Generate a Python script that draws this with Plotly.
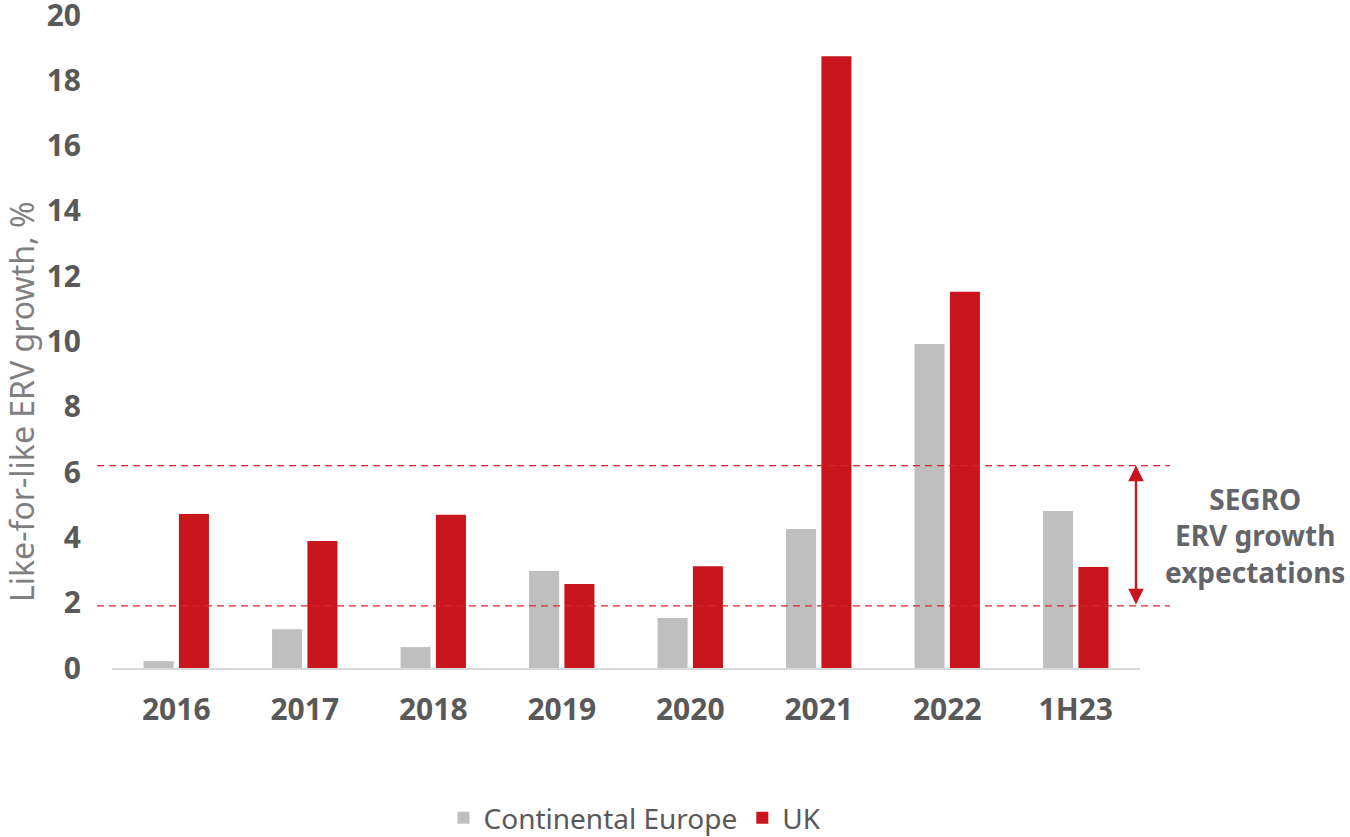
import plotly.graph_objects as go

categories = ["2016", "2017", "2018", "2019", "2020", "2021", "2022", "1H23"]
continental_europe = [0.21, 1.19, 0.64, 2.97, 1.53, 4.26, 9.92, 4.81]
uk = [4.72, 3.89, 4.69, 2.57, 3.12, 18.74, 11.52, 3.09]
y_ticks = [0, 2, 4, 6, 8, 10, 12, 14, 16, 18, 20]
expectation_low = 1.9
expectation_high = 6.2

FONT = "Noto Sans"
GREY_TXT = "#595959"
RED = "#C9161E"
LIGHT = "#BFBFBF"

fig = go.Figure()
fig.add_trace(go.Bar(x=categories, y=continental_europe, name="Continental Europe",
                     marker=dict(color=LIGHT, line=dict(width=0))))
fig.add_trace(go.Bar(x=categories, y=uk, name="UK",
                     marker=dict(color=RED, line=dict(width=0))))

L, R, T, B = 112, 210, 15, 169
W, H = 1350, 837
pw = W - L - R
ph = H - T - B


def px_x(p):
    return (p - L) / pw


def px_y(p):
    return (H - B - p) / ph


for v in (expectation_high, expectation_low):
    fig.add_shape(type="line", xref="paper", yref="y", x0=px_x(97), x1=px_x(1170),
                  y0=v, y1=v, line=dict(color="#D8262D", width=1.2, dash="7px,5px"),
                  layer="above")

fig.add_annotation(xref="paper", yref="y", x=px_x(1136), y=expectation_high,
                   axref="pixel", ayref="y", ax=0, ay=expectation_low,
                   text="", showarrow=True, arrowside="end+start", arrowhead=2,
                   arrowsize=1.3, arrowwidth=2.4, arrowcolor=RED)

fig.add_annotation(xref="paper", yref="paper", x=px_x(1255), y=px_y(535),
                   text="<b>SEGRO<br>ERV growth<br>expectations</b>", showarrow=False,
                   font=dict(family=FONT, size=28, color="#636569"), align="center",
                   xanchor="center", yanchor="middle")

fig.add_annotation(xref="paper", yref="paper", x=px_x(21), y=px_y(402),
                   text="Like-for-like ERV growth, %", showarrow=False, textangle=-90,
                   font=dict(family=FONT, size=32, color="#7F7F7F"),
                   xanchor="center", yanchor="middle")

fig.update_layout(
    width=W, height=H,
    margin=dict(l=L, r=R, t=T, b=B, autoexpand=False),
    paper_bgcolor="white", plot_bgcolor="white",
    barmode="group", bargap=0.45, bargroupgap=0.15,
    font=dict(family=FONT, color=GREY_TXT),
    showlegend=True,
    legend=dict(orientation="h", x=px_x(635), xanchor="center", y=px_y(818),
                yanchor="middle", font=dict(family=FONT, size=28, color=GREY_TXT),
                itemwidth=30, traceorder="normal"),
    xaxis=dict(showgrid=False, showline=True, linecolor="#D9D9D9", linewidth=2,
               ticks="", ticklabelstandoff=14,
               tickfont=dict(family=FONT, size=30, color=GREY_TXT, weight="bold")),
    yaxis=dict(range=[0, 20], tickvals=y_ticks, showgrid=False, zeroline=False,
               showline=False, ticks="", ticklabelstandoff=30, ticklabeloverflow="allow",
               tickfont=dict(family=FONT, size=30, color=GREY_TXT, weight="bold")),
)

fig.write_html("out.html", config={"displayModeBar": False},
               post_script="document.body.style.margin='0';")
